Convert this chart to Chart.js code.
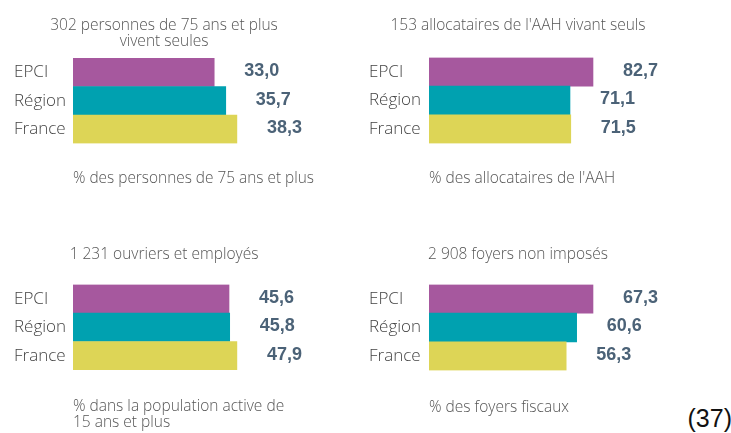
<!DOCTYPE html>
<html>
<head>
<meta charset="utf-8">
<script src="https://cdn.jsdelivr.net/npm/chart.js@4.4.0/dist/chart.umd.min.js"></script>
<style>
  body { margin: 0; background: #fff; width: 731px; height: 433px; position: relative; overflow: hidden; }
  .box { position: absolute; }
  #page { position: absolute; right: -1px; top: 404px; font: 25px "Liberation Sans", Arial, sans-serif; color: #111; }
</style>
</head>
<body>
<div class="box" style="left:0;top:0"><canvas id="c1" width="328" height="200"></canvas></div>
<div class="box" style="left:355px;top:0"><canvas id="c2" width="326" height="200"></canvas></div>
<div class="box" style="left:0;top:230px"><canvas id="c3" width="328" height="203"></canvas></div>
<div class="box" style="left:355px;top:230px"><canvas id="c4" width="326" height="203"></canvas></div>
<div id="page">(37)</div>
<script>
// data
const categories = ["EPCI", "Région", "France"];
const colors = ["#a6589e", "#00a1b0", "#ddd556"];

const title1 = ["302 personnes de 75 ans et plus", "vivent seules"];
const values1 = [33.0, 35.7, 38.3];
const footer1 = "% des personnes de 75 ans et plus";

const title2 = "153 allocataires de l'AAH vivant seuls";
const values2 = [82.7, 71.1, 71.5];
const footer2 = "% des allocataires de l'AAH";

const title3 = "1 231 ouvriers et employés";
const values3 = [45.6, 45.8, 47.9];
const footer3 = ["% dans la population active de", "15 ans et plus"];

const title4 = "2 908 foyers non imposés";
const values4 = [67.3, 60.6, 56.3];
const footer4 = "% des foyers fiscaux";

const textFont = "'Open Sans', 'DejaVu Sans', sans-serif";

// value labels to the right of each bar
const valueLabels = {
  id: "valueLabels",
  afterDatasetsDraw(chart) {
    const ctx = chart.ctx;
    const meta = chart.getDatasetMeta(0);
    ctx.save();
    ctx.font = "bold 18px 'Liberation Sans', Arial, sans-serif";
    ctx.fillStyle = "#4b6277";
    ctx.textAlign = "left";
    ctx.textBaseline = "middle";
    meta.data.forEach((bar, i) => {
      const v = chart.data.datasets[0].data[i];
      ctx.fillText(v.toFixed(1).replace(".", ","), bar.x + 30, bar.y - 1);
    });
    ctx.restore();
  }
};

function makeChart(id, title, values, footer, o) {
  new Chart(document.getElementById(id), {
    type: "bar",
    data: {
      labels: categories,
      datasets: [{
        data: values,
        backgroundColor: colors,
        borderWidth: 0,
        categoryPercentage: 1,
        barPercentage: 1
      }]
    },
    options: {
      indexAxis: "y",
      responsive: false,
      animation: false,
      layout: { padding: { left: 14, right: 14, top: 0, bottom: o.padBottom } },
      plugins: {
        legend: { display: false },
        tooltip: { enabled: false },
        title: {
          display: true,
          text: title,
          color: "#555",
          font: { family: textFont, size: 15.5, weight: "300", lineHeight: 1 },
          padding: { top: o.titleTop, bottom: o.titleBottom }
        }
      },
      scales: {
        y: {
          grid: { display: false, drawTicks: false },
          border: { display: false },
          ticks: {
            color: "#444",
            crossAlign: "far",
            padding: 0,
            font: { family: textFont, size: 17, weight: "300" }
          },
          afterFit(scale) { scale.width = o.axisWidth; }
        },
        x: {
          min: 0,
          max: Math.max(...values) / o.fill,
          grid: { display: false, drawTicks: false },
          border: { display: false },
          ticks: { display: false },
          title: {
            display: true,
            text: footer,
            align: "start",
            color: "#555",
            font: { family: textFont, size: 15.5, weight: "300", lineHeight: 1 },
            padding: { top: o.footTop, bottom: 0 }
          }
        }
      }
    },
    plugins: [valueLabels]
  });
}

makeChart("c1", title1, values1, footer1, { padBottom: 14, titleTop: 18, titleBottom: 9, footTop: 27, axisWidth: 59, fill: 0.68 });
makeChart("c2", title2, values2, footer2, { padBottom: 14, titleTop: 18, titleBottom: 24, footTop: 27, axisWidth: 60, fill: 0.689 });
makeChart("c3", title3, values3, footer3, { padBottom: 3, titleTop: 17, titleBottom: 22, footTop: 29, axisWidth: 59, fill: 0.68 });
makeChart("c4", title4, values4, footer4, { padBottom: 18, titleTop: 17, titleBottom: 22, footTop: 29, axisWidth: 60, fill: 0.689 });
</script>
</body>
</html>
